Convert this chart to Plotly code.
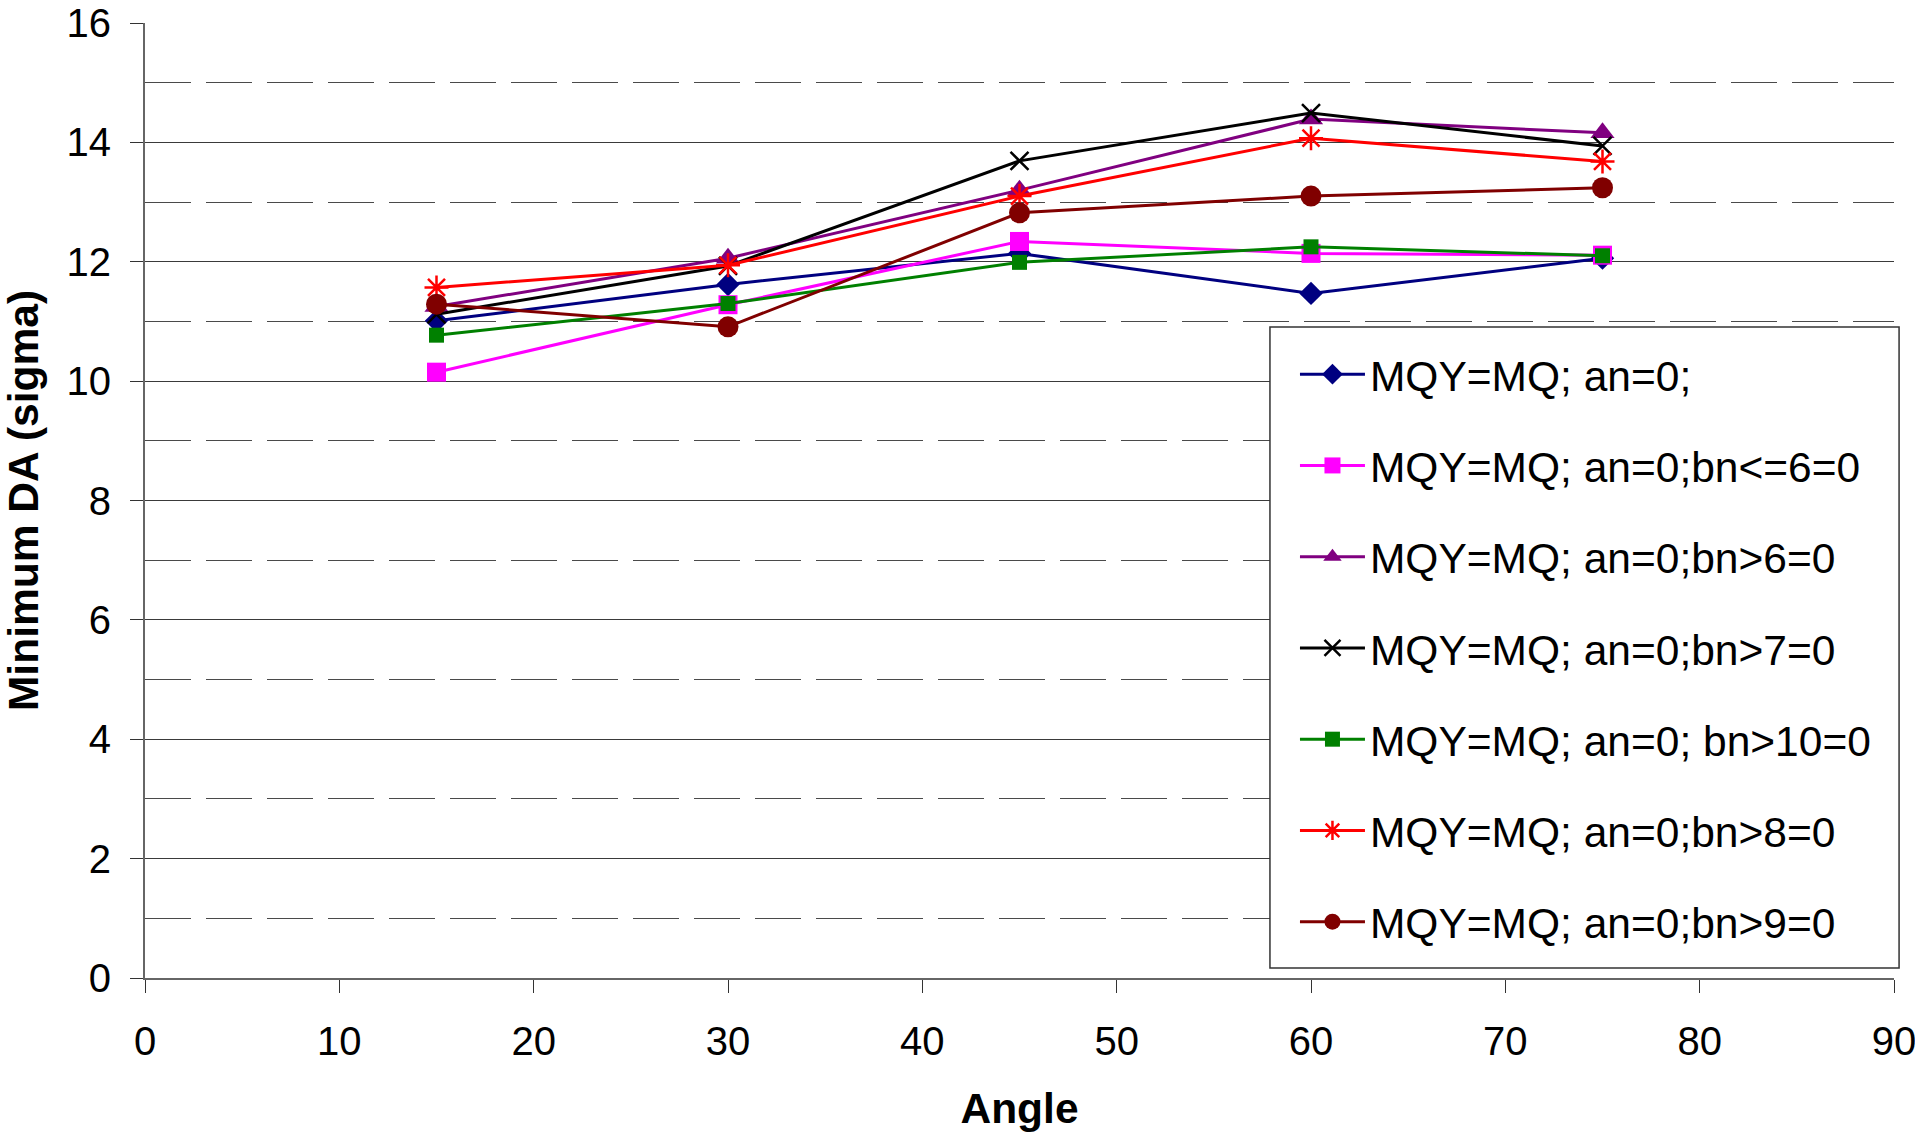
import plotly.graph_objects as go

# Scan angle (degrees)
angles = [15, 30, 45, 60, 75]

# Minimum dynamic aperture (sigma) for each multipole configuration
da_all = [11.01, 11.62, 12.14, 11.47, 12.06]
da_bn_le6 = [10.15, 11.28, 12.34, 12.14, 12.11]
da_bn_gt6 = [11.25, 12.06, 13.20, 14.39, 14.16]
da_bn_gt7 = [11.12, 11.93, 13.69, 14.49, 13.94]
da_bn_gt10 = [10.77, 11.30, 11.99, 12.25, 12.10]
da_bn_gt8 = [11.57, 11.94, 13.10, 14.07, 13.68]
da_bn_gt9 = [11.29, 10.91, 12.82, 13.10, 13.24]

series_names = [
    "MQY=MQ; an=0;",
    "MQY=MQ; an=0;bn<=6=0",
    "MQY=MQ; an=0;bn>6=0",
    "MQY=MQ; an=0;bn>7=0",
    "MQY=MQ; an=0; bn>10=0",
    "MQY=MQ; an=0;bn>8=0",
    "MQY=MQ; an=0;bn>9=0",
]
series_values = [da_all, da_bn_le6, da_bn_gt6, da_bn_gt7, da_bn_gt10, da_bn_gt8, da_bn_gt9]

# Visual style per series: colour, marker symbol, marker size
styles = [
    ("#000080", "diamond", 18),
    ("#FF00FF", "square", 19),
    ("#800080", "triangle-up", 21),
    ("#000000", "x-thin", 18),
    ("#008000", "square", 15),
    ("#FF0000", "asterisk", 20),
    ("#800000", "circle", 21),
]

FONT = "Arial, 'Liberation Sans', sans-serif"

fig = go.Figure()
for i, (name, vals, (color, symbol, size)) in enumerate(zip(series_names, series_values, styles)):
    open_symbol = symbol in ("x-thin", "asterisk")
    marker = dict(symbol=symbol, size=size, color=color)
    if open_symbol:
        marker["line"] = dict(color=color, width=2.5)
    else:
        marker["line"] = dict(width=0)
    fig.add_trace(go.Scatter(
        x=angles, y=vals, name=name, mode="lines+markers",
        line=dict(color=color, width=3),
        marker=marker,
        legendgroup=f"g{i}",
    ))

# Opaque framed panel behind the legend entries
fig.add_shape(
    type="rect", xref="paper", yref="paper",
    x0=0.6432, x1=1.0029, y0=0.0105, y1=0.6817,
    line=dict(color="#333333", width=1.5), fillcolor="white",
    layer="above",
)

fig.update_layout(
    width=1915, height=1132,
    margin=dict(l=145, r=21, t=23, b=154),
    paper_bgcolor="white", plot_bgcolor="white",
    font=dict(family=FONT, color="black"),
    showlegend=True,
    legend=dict(
        x=0.6575, y=0.668, xanchor="left", yanchor="top",
        bgcolor="rgba(0,0,0,0)", borderwidth=0,
        font=dict(family=FONT, size=42.5, color="black"),
        tracegroupgap=33, traceorder="grouped",
        itemwidth=65,
    ),
    xaxis=dict(
        range=[0, 90], dtick=10, tick0=0,
        showgrid=False, zeroline=False, automargin=False,
        showline=True, linecolor="#666666", linewidth=2,
        ticks="outside", ticklen=13, tickcolor="#333333", tickwidth=1,
        tickfont=dict(family=FONT, size=40, color="black"),
        ticklabelstandoff=14, ticklabeloverflow="allow",
        title=dict(text="<b>Angle</b>", font=dict(family=FONT, size=42.5, color="black"), standoff=32),
    ),
    yaxis=dict(
        range=[0, 16], dtick=2, tick0=0,
        showgrid=True, gridcolor="#3a3a3a", gridwidth=1,
        zeroline=False, automargin=False,
        showline=True, linecolor="#666666", linewidth=2,
        ticks="outside", ticklen=13, tickcolor="#333333", tickwidth=1,
        tickfont=dict(family=FONT, size=40, color="black"),
        ticklabelstandoff=11, ticklabeloverflow="allow",
        minor=dict(dtick=1, tick0=0, showgrid=True, gridcolor="#4a4a4a",
                   gridwidth=1, griddash="46px,15px", ticks=""),
        title=dict(text="<b>Minimum DA (sigma)</b>", font=dict(family=FONT, size=42.5, color="black"), standoff=25),
    ),
)

fig.write_html("out.html")
